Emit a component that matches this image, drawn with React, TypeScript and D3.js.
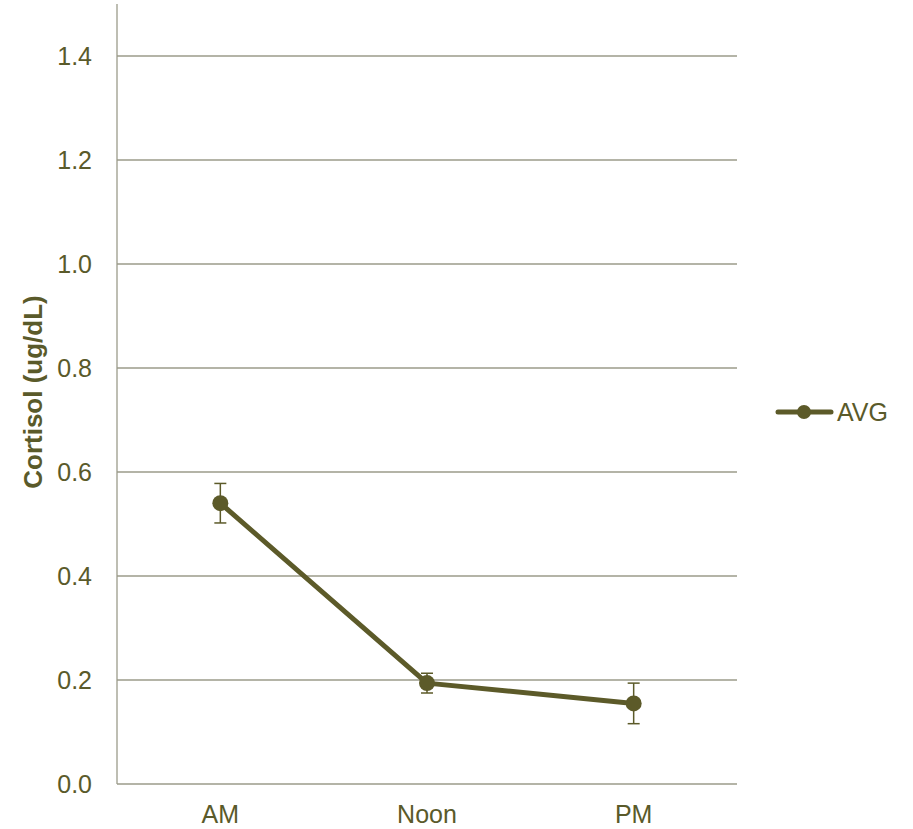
import React from "react";
import * as d3 from "d3";

const categories = ["AM", "Noon", "PM"];
const avgValues = [0.54, 0.194, 0.155];
const errValues = [0.038, 0.019, 0.039];
const yTicks = [0, 0.2, 0.4, 0.6, 0.8, 1.0, 1.2, 1.4];
const seriesName = "AVG";
const yTitle = "Cortisol (ug/dL)";

export default function App() {
  const W = 913, H = 829;
  const left = 117, right = 737, top = 4, bottom = 784;
  const x = d3.scaleBand<string>().domain(categories).range([left, right]);
  const y = d3.scaleLinear().domain([0, 1.4]).range([bottom, 56]);
  const color = "#5c5a29";
  const grid = "#9b9b8a";
  const textColor = "#5a5a2a";
  const font = "'Liberation Sans', Arial, sans-serif";
  const cx = (c: string) => (x(c) as number) + x.bandwidth() / 2;
  const line = d3.line<number>().x((_, i) => cx(categories[i])).y((d) => y(d));
  return (
    <svg width={W} height={H} style={{ position: "absolute", left: 0, top: 0 }}>
      <rect width={W} height={H} fill="#fff" />
      {yTicks.slice(1).map((t) => (
        <line key={t} x1={left} x2={right} y1={y(t)} y2={y(t)} stroke={grid} strokeWidth={1.3} />
      ))}
      <line x1={left} x2={left} y1={top} y2={bottom} stroke={grid} strokeWidth={1.3} />
      <line x1={left} x2={right} y1={bottom} y2={bottom} stroke={grid} strokeWidth={1.3} />
      {yTicks.map((t) => (
        <text key={t} x={92} y={y(t) + 8.5} textAnchor="end" fontFamily={font} fontSize={25} fill={textColor}>
          {t.toFixed(1)}
        </text>
      ))}
      {categories.map((c) => (
        <text key={c} x={cx(c)} y={823} textAnchor="middle" fontFamily={font} fontSize={25} fill={textColor}>
          {c}
        </text>
      ))}
      <text transform={`translate(42,${392}) rotate(-90)`} textAnchor="middle" fontFamily={font} fontSize={26} fontWeight="bold" fill={textColor}>
        {yTitle}
      </text>
      {avgValues.map((v, i) => {
        const px = cx(categories[i]);
        return (
          <g key={i} stroke={color} strokeWidth={1.5}>
            <line x1={px} x2={px} y1={y(v + errValues[i])} y2={y(v - errValues[i])} />
            <line x1={px - 6} x2={px + 6} y1={y(v + errValues[i])} y2={y(v + errValues[i])} />
            <line x1={px - 6} x2={px + 6} y1={y(v - errValues[i])} y2={y(v - errValues[i])} />
          </g>
        );
      })}
      <path d={line(avgValues) || ""} fill="none" stroke={color} strokeWidth={5} strokeLinejoin="round" />
      {avgValues.map((v, i) => (
        <circle key={i} cx={cx(categories[i])} cy={y(v)} r={8} fill={color} />
      ))}
      <line x1={778} x2={831} y1={412} y2={412} stroke={color} strokeWidth={5} strokeLinecap="round" />
      <circle cx={804} cy={412} r={7} fill={color} />
      <text x={837} y={421} fontFamily={font} fontSize={25} fill={textColor}>
        {seriesName}
      </text>
    </svg>
  );
}
